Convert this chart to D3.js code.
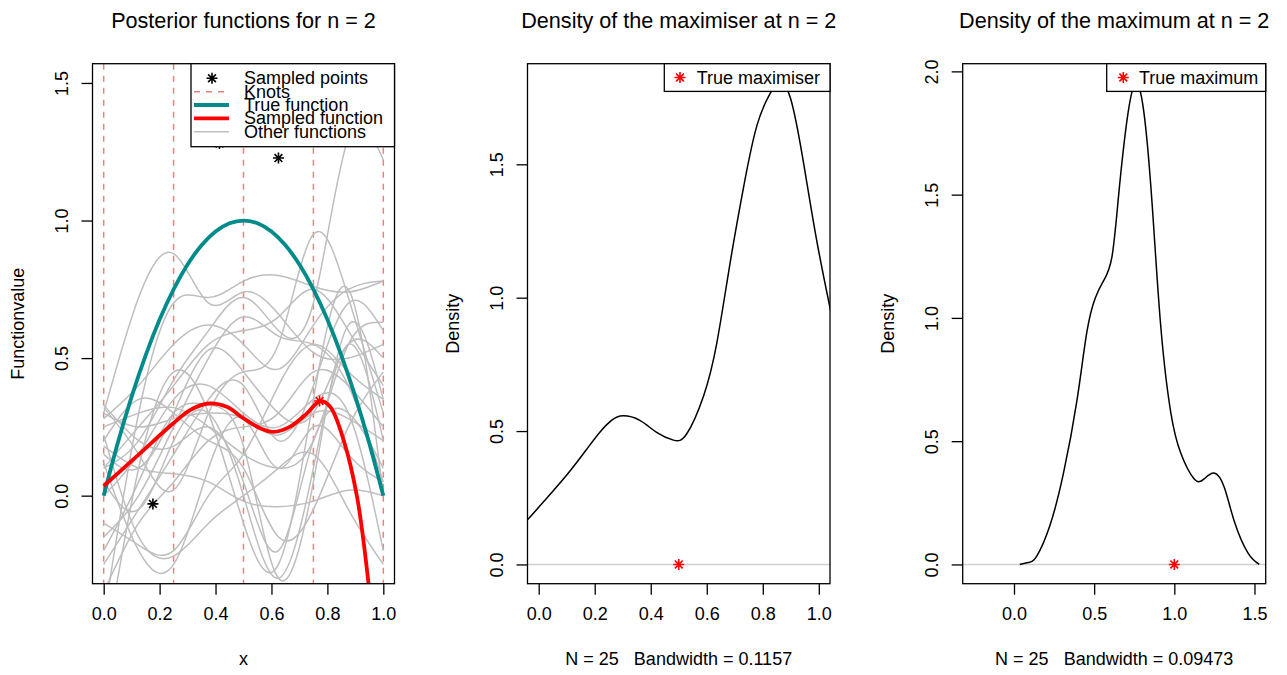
<!DOCTYPE html>
<html>
<head>
<meta charset="utf-8">
<script src="https://cdn.jsdelivr.net/npm/d3@7"></script>
<style>
  html, body { margin: 0; padding: 0; background: #fff; }
  svg { display: block; font-family: "Liberation Sans", Arial, Helvetica, sans-serif; }
  text { white-space: pre; }
</style>
</head>
<body>
<svg id="fig" width="1287" height="675"></svg>
<script>
// ---- data -------------------------------------------------------------
const knots = [0, 0.25, 0.5, 0.75, 1];
const gridX = [0, 0.125, 0.25, 0.375, 0.5, 0.625, 0.75, 0.875, 1];

// posterior draws evaluated on gridX
const otherFunctions = [
  [0.30, 0.72, 0.88, 0.70, 0.74, 0.66, 0.52, 0.50, 0.55],
  [-0.45, 0.30, 0.70, 0.72, 0.78, 0.80, 0.76, 0.74, 0.78],
  [0.10, 0.20, 0.42, 0.60, 0.72, 0.60, 0.70, 1.30, 1.22],
  [0.32, 0.15, 0.02, 0.30, 0.45, 0.55, 0.95, 0.72, 0.30],
  [0.25, 0.30, 0.32, 0.25, 0.15, 0.10, 0.20, 0.55, 0.63],
  [-0.20, 0.05, 0.30, 0.33, 0.18, -0.30, 0.05, 0.62, 0.35],
  [0.05, -0.05, 0.20, 0.30, 0.00, -0.30, 0.10, 0.55, 0.20],
  [0.30, 0.25, 0.28, 0.30, 0.28, 0.22, 0.30, 0.28, 0.20],
  [0.18, 0.10, 0.08, 0.05, -0.02, -0.04, -0.02, 0.02, 0.00],
  [-0.10, -0.18, -0.20, 0.00, 0.15, 0.40, 0.55, 0.45, 0.35],
  [0.28, 0.40, 0.55, 0.62, 0.55, 0.46, 0.62, 0.75, 0.78],
  [-0.25, -0.05, 0.15, 0.35, 0.40, 0.20, 0.40, 0.70, 0.60],
  [0.15, 0.10, 0.30, 0.53, 0.45, 0.30, 0.30, 0.55, 0.50],
  [-0.60, 0.10, 0.45, 0.30, -0.10, -0.25, 0.35, 0.75, 0.00],
  [0.20, 0.35, 0.30, 0.20, 0.10, -0.15, -0.05, 0.25, 0.45],
  [0.00, 0.15, 0.35, 0.40, 0.30, 0.25, 0.35, 0.30, -0.20],
  [0.33, 0.20, 0.18, 0.25, 0.05, -0.20, 0.20, 0.30, 0.10],
  [-0.35, -0.10, 0.05, 0.20, 0.25, 0.30, 0.45, 0.40, 0.25],
  [0.10, 0.25, 0.40, 0.55, 0.60, 0.65, 0.75, 0.60, 0.40],
  [0.22, -0.15, -0.22, -0.10, 0.00, 0.10, 0.15, -0.05, -0.25],
  [-0.15, 0.00, 0.25, 0.50, 0.65, 0.58, 0.55, 0.40, 0.05],
  [0.12, -0.20, -0.25, 0.10, 0.28, 0.10, 0.25, 0.15, 0.05]
];

const trueX = [0, 0.05, 0.1, 0.15, 0.2, 0.25, 0.3, 0.35, 0.4, 0.45, 0.5,
               0.55, 0.6, 0.65, 0.7, 0.75, 0.8, 0.85, 0.9, 0.95, 1];
const trueY = [0, 0.19, 0.36, 0.51, 0.64, 0.75, 0.84, 0.91, 0.96, 0.99, 1.0,
               0.99, 0.96, 0.91, 0.84, 0.75, 0.64, 0.51, 0.36, 0.19, 0];

const sampledX = [0, 0.13, 0.249, 0.309, 0.375, 0.44, 0.5, 0.56, 0.607, 0.667,
                  0.727, 0.774, 0.81, 0.858, 0.906, 0.947, 0.97];
const sampledY = [0.035, 0.154, 0.263, 0.311, 0.335, 0.323, 0.281, 0.245, 0.232, 0.251,
                  0.299, 0.344, 0.323, 0.202, -0.004, -0.318, -0.55];

const pointsX = [0.176, 0.414, 0.625];
const pointsY = [-0.03, 1.28, 1.227];
const sampledMaxX = 0.772, sampledMaxY = 0.344;

// kernel density of the maximiser (N = 25, bw = 0.1157)
const maximiserX = [-0.06, -0.036, 0.03, 0.10, 0.17, 0.2175, 0.26, 0.301, 0.361, 0.421, 0.481, 0.528,
                    0.588, 0.636, 0.683, 0.731, 0.779, 0.827, 0.86, 0.899, 0.946, 0.994, 1.06];
const maximiserD = [0.15, 0.172, 0.25, 0.335, 0.43, 0.495, 0.54, 0.557, 0.540, 0.495, 0.466, 0.489,
                    0.630, 0.831, 1.128, 1.412, 1.645, 1.767, 1.805, 1.748, 1.503, 1.206, 0.86];
const trueMaximiser = 0.5;

// kernel density of the maximum (N = 25, bw = 0.09473)
const maximumX = [0.036, 0.09, 0.141, 0.224, 0.308, 0.392, 0.454, 0.507, 0.559, 0.611, 0.653,
                  0.706, 0.758, 0.810, 0.862, 0.915, 0.977, 1.040, 1.124, 1.186, 1.249,
                  1.312, 1.375, 1.459, 1.53];
const maximumD = [0.0, 0.008, 0.033, 0.158, 0.368, 0.662, 0.941, 1.081, 1.151, 1.248, 1.5,
                  1.807, 1.95, 1.835, 1.458, 0.969, 0.62, 0.452, 0.347, 0.347, 0.371,
                  0.312, 0.173, 0.047, 0.0];
const trueMaximum = 1.0;

const ticksLeftX = [0, 0.2, 0.4, 0.6, 0.8, 1.0];
const ticksLeftY = [0, 0.5, 1.0, 1.5];
const ticksMidX = [0, 0.2, 0.4, 0.6, 0.8, 1.0];
const ticksMidY = [0, 0.5, 1.0, 1.5];
const ticksRightX = [0, 0.5, 1.0, 1.5];
const ticksRightY = [0, 0.5, 1.0, 1.5, 2.0];

// ---- layout -----------------------------------------------------------
const svg = d3.select("#fig");
const TOP = 63.7, BOTTOM = 583.7;
const FS = 18;          // base font size
const TEAL = "#008b8b", RED = "#ff0000", GREY = "#bebebe", KNOT = "#f08080";

// R-style 4% axis extension
function ext(lo, hi) { const r = hi - lo; return [lo - 0.04 * r, hi + 0.04 * r]; }

function panel(id, left, right, xlim, ylim) {
  const x = d3.scaleLinear().domain(ext(...xlim)).range([left, right]);
  const y = d3.scaleLinear().domain(ext(...ylim)).range([BOTTOM, TOP]);
  const g = svg.append("g");
  g.append("clipPath").attr("id", id)
    .append("rect").attr("x", left).attr("y", TOP)
    .attr("width", right - left).attr("height", BOTTOM - TOP);
  const plot = g.append("g").attr("clip-path", `url(#${id})`);
  return { x, y, g, plot, left, right };
}

function axes(p, xt, yt, fmt) {
  const ax = p.g.append("g").attr("transform", `translate(0,${BOTTOM})`)
    .call(d3.axisBottom(p.x).tickValues(xt).tickSize(11).tickPadding(12.5).tickFormat(fmt));
  ax.select(".domain").remove();
  ax.selectAll("line").attr("stroke", "#000").attr("stroke-width", 1.3);
  ax.selectAll("text").attr("font-size", FS).attr("fill", "#000")
    .attr("font-family", "Liberation Sans, Arial, sans-serif");

  const ay = p.g.append("g").attr("transform", `translate(${p.left},0)`)
    .call(d3.axisLeft(p.y).tickValues(yt).tickSize(11).tickFormat(fmt));
  ay.select(".domain").remove();
  ay.selectAll("line").attr("stroke", "#000").attr("stroke-width", 1.3);
  ay.selectAll("text").attr("font-size", FS).attr("fill", "#000")
    .attr("font-family", "Liberation Sans, Arial, sans-serif")
    .attr("text-anchor", "middle").attr("dy", null)
    .attr("x", 0).attr("y", -24.4).attr("transform", "rotate(-90)");

  p.g.append("rect").attr("x", p.left).attr("y", TOP)
    .attr("width", p.right - p.left).attr("height", BOTTOM - TOP)
    .attr("fill", "none").attr("stroke", "#000").attr("stroke-width", 1.3);
}

function labels(p, title, xlab, ylab) {
  const cx = (p.left + p.right) / 2;
  p.g.append("text").attr("x", cx).attr("y", 28).attr("text-anchor", "middle")
    .attr("font-size", FS * 1.2).text(title);
  p.g.append("text").attr("x", cx).attr("y", 665).attr("text-anchor", "middle")
    .attr("font-size", FS).text(xlab);
  p.g.append("text").attr("transform", `translate(${p.left - 68.5},${(TOP + BOTTOM) / 2}) rotate(-90)`)
    .attr("text-anchor", "middle").attr("font-size", FS).text(ylab);
}

// asterisk (pch = 8)
function star(sel, cx, cy, color, r = 5.5, w = 1.6) {
  const d = r * Math.SQRT1_2;
  sel.append("path")
    .attr("d", `M${cx - r},${cy}H${cx + r}M${cx},${cy - r}V${cy + r}` +
               `M${cx - d},${cy - d}L${cx + d},${cy + d}M${cx - d},${cy + d}L${cx + d},${cy - d}`)
    .attr("stroke", color).attr("stroke-width", w).attr("fill", "none");
}

const fmt = d3.format(".1f");

// ---- left: posterior functions ---------------------------------------
const L = panel("clipL", 92.5, 394.5, [0, 1], [-0.25, 1.5]);

knots.forEach(k => {
  L.plot.append("line").attr("x1", L.x(k)).attr("x2", L.x(k))
    .attr("y1", TOP).attr("y2", BOTTOM)
    .attr("stroke", KNOT).attr("stroke-width", 1.5).attr("stroke-dasharray", "6,6");
});

const lineGrid = d3.line().x((d, i) => L.x(gridX[i])).y(d => L.y(d)).curve(d3.curveNatural);
otherFunctions.forEach(f => {
  L.plot.append("path").attr("d", lineGrid(f)).attr("fill", "none")
    .attr("stroke", GREY).attr("stroke-width", 1.5);
});

const lineXY = d3.line().x(d => L.x(d[0])).y(d => L.y(d[1])).curve(d3.curveNatural);
L.plot.append("path").attr("d", lineXY(d3.zip(trueX, trueY))).attr("fill", "none")
  .attr("stroke", TEAL).attr("stroke-width", 3.8);
L.plot.append("path")
  .attr("d", lineXY.curve(d3.curveCatmullRom.alpha(0.5))(d3.zip(sampledX, sampledY)))
  .attr("fill", "none").attr("stroke", RED).attr("stroke-width", 3.8);

pointsX.forEach((px, i) => star(L.plot, L.x(px), L.y(pointsY[i]), "#000"));
star(L.plot, L.x(sampledMaxX), L.y(sampledMaxY), RED);

axes(L, ticksLeftX, ticksLeftY, fmt);
labels(L, "Posterior functions for n = 2", "x", "Functionvalue");

// legend
const legL = L.g.append("g");
legL.append("rect").attr("x", 191).attr("y", TOP).attr("width", 394.5 - 191).attr("height", 83)
  .attr("fill", "#fff").attr("stroke", "#000").attr("stroke-width", 1.3);
const legItems = [
  { label: "Sampled points", type: "star" },
  { label: "Knots", type: "line", color: KNOT, w: 1.5, dash: "6,6" },
  { label: "True function", type: "line", color: TEAL, w: 3.8 },
  { label: "Sampled function", type: "line", color: RED, w: 3.8 },
  { label: "Other functions", type: "line", color: GREY, w: 1.5 }
];
legItems.forEach((it, i) => {
  const cy = 78.3 + i * 13.35;
  if (it.type === "star") star(legL, 212, cy, "#000");
  else legL.append("line").attr("x1", 194).attr("x2", 229).attr("y1", cy).attr("y2", cy)
    .attr("stroke", it.color).attr("stroke-width", it.w).attr("stroke-dasharray", it.dash || null);
  legL.append("text").attr("x", 244).attr("y", cy + 6).attr("font-size", FS).text(it.label);
});

// ---- middle: density of the maximiser ---------------------------------
const M = panel("clipM", 527.5, 830, [0, 1], [0, 1.805]);
M.plot.append("line").attr("x1", M.left).attr("x2", M.right)
  .attr("y1", M.y(0)).attr("y2", M.y(0)).attr("stroke", "#d0d0d0").attr("stroke-width", 1.5);
const lineM = d3.line().x(d => M.x(d[0])).y(d => M.y(d[1])).curve(d3.curveNatural);
M.plot.append("path").attr("d", lineM(d3.zip(maximiserX, maximiserD)))
  .attr("fill", "none").attr("stroke", "#000").attr("stroke-width", 1.5);
star(M.plot, M.x(trueMaximiser), M.y(0), RED);
axes(M, ticksMidX, ticksMidY, fmt);
labels(M, "Density of the maximiser at n = 2", "N = 25   Bandwidth = 0.1157", "Density");
const legM = M.g.append("g");
legM.append("rect").attr("x", 664.3).attr("y", TOP).attr("width", 830 - 664.3).attr("height", 27.7)
  .attr("fill", "#fff").attr("stroke", "#000").attr("stroke-width", 1.3);
star(legM, 680, 77.5, RED);
legM.append("text").attr("x", 696.7).attr("y", 83.8).attr("font-size", FS).text("True maximiser");

// ---- right: density of the maximum ------------------------------------
const R = panel("clipR", 962.7, 1265.7, [-0.25, 1.5], [0, 1.953]);
R.plot.append("line").attr("x1", R.left).attr("x2", R.right)
  .attr("y1", R.y(0)).attr("y2", R.y(0)).attr("stroke", "#d0d0d0").attr("stroke-width", 1.5);
const lineR = d3.line().x(d => R.x(d[0])).y(d => R.y(d[1])).curve(d3.curveNatural);
R.plot.append("path").attr("d", lineR(d3.zip(maximumX, maximumD)))
  .attr("fill", "none").attr("stroke", "#000").attr("stroke-width", 1.5);
star(R.plot, R.x(trueMaximum), R.y(0), RED);
axes(R, ticksRightX, ticksRightY, fmt);
labels(R, "Density of the maximum at n = 2", "N = 25   Bandwidth = 0.09473", "Density");
const legR = R.g.append("g");
legR.append("rect").attr("x", 1106.7).attr("y", TOP).attr("width", 1265.7 - 1106.7).attr("height", 27.7)
  .attr("fill", "#fff").attr("stroke", "#000").attr("stroke-width", 1.3);
star(legR, 1123.3, 77.5, RED);
legR.append("text").attr("x", 1139).attr("y", 83.8).attr("font-size", FS).text("True maximum");
</script>
</body>
</html>
